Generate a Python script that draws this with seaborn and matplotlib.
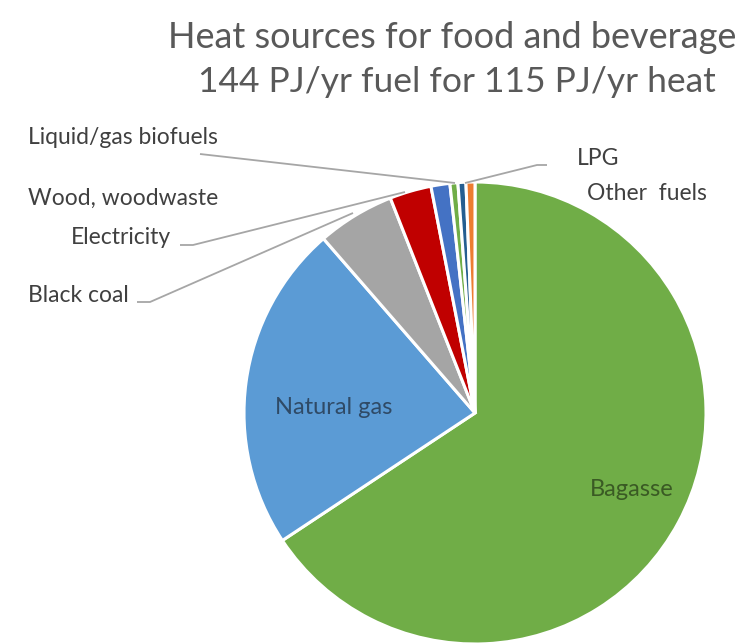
import matplotlib
matplotlib.use("Agg")
import matplotlib.pyplot as plt
import seaborn as sns

# Fuel use by source, PJ/yr (clockwise from 12 o'clock)
sources = ["Bagasse", "Natural gas", "Black coal", "Electricity",
           "Wood, woodwaste", "Liquid/gas biofuels", "LPG", "Other fuels"]
fuel_pj = [94.6, 33.0, 7.8, 4.2, 1.9, 0.8, 0.8, 0.9]
colors = ["#70AD47", "#5B9BD5", "#A5A5A5", "#C00000",
          "#4472C4", "#70AD47", "#255E91", "#ED7D31"]

title_lines = ["Heat sources for food and beverage",
               "144 PJ/yr fuel for 115 PJ/yr heat"]

sns.set_theme(style="white")
plt.rcParams["font.family"] = ["Lato", "DejaVu Sans"]

W, H = 748, 644
fig = plt.figure(figsize=(W / 100, H / 100), dpi=100)
ax = fig.add_axes([0, 0, 1, 1])


def py(y):
    # convert a top-down pixel row into axis units
    return H - y


cx, cy, r = 475, py(413), 231
ax.pie(fuel_pj, colors=colors, startangle=90, counterclock=False,
       center=(cx, cy), radius=r, frame=True,
       wedgeprops=dict(edgecolor="white", linewidth=2.2))
ax.set_xlim(0, W)
ax.set_ylim(0, H)
ax.set_aspect("equal")
ax.axis("off")

txt = "#404040"
label_size = 16.5
ax.text(334, py(408), "Natural gas", ha="center", va="center",
        fontsize=17, color="#2F4A66")
ax.text(632, py(489), "Bagasse", ha="center", va="center",
        fontsize=17, color="#3A5A24")

outer = [
    ("Liquid/gas biofuels", 28, 137, "left"),
    ("Wood, woodwaste", 28, 198, "left"),
    ("Electricity", 171, 237, "right"),
    ("Black coal", 28, 295, "left"),
    ("LPG", 577, 158, "left"),
    ("Other  fuels", 587, 193, "left"),
]
for label, x, y, ha in outer:
    ax.text(x, py(y), label, ha=ha, va="center", fontsize=label_size,
            color=txt)

leader = "#A6A6A6"
leaders = [
    [(200, 154), (455, 183)],
    [(180, 245), (193, 245), (405, 192)],
    [(137, 302), (150, 302), (353, 213)],
    [(547, 165), (537, 165), (465, 183)],
]
for pts in leaders:
    xs = [p[0] for p in pts]
    ys = [py(p[1]) for p in pts]
    ax.plot(xs, ys, color=leader, linewidth=1.3, solid_capstyle="butt")

ax.text(452, py(37), title_lines[0], ha="center", va="center",
        fontsize=26, color="#595959")
ax.text(457, py(82), title_lines[1], ha="center", va="center",
        fontsize=25.5, color="#595959")

fig.savefig("out.png", dpi=100, facecolor="white")
